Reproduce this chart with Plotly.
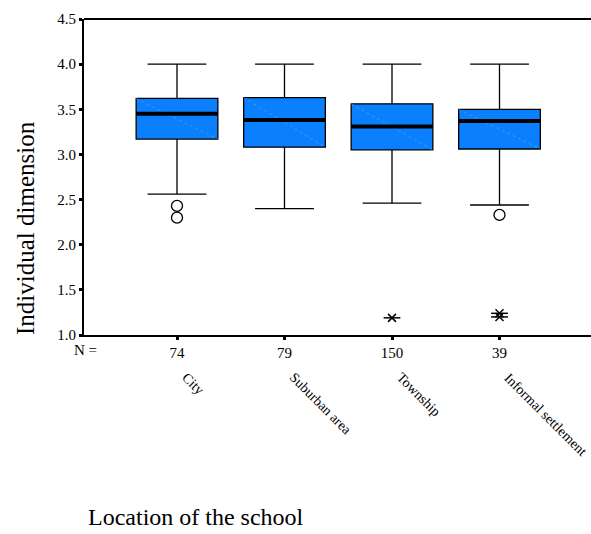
import plotly.graph_objects as go

categories = ["City", "Suburban area", "Township", "Informal settlement"]
counts = ["74", "79", "150", "39"]
upper_whisker = [4.0, 4.0, 4.0, 4.0]
q3 = [3.62, 3.63, 3.56, 3.50]
median = [3.45, 3.38, 3.31, 3.37]
q1 = [3.17, 3.08, 3.05, 3.06]
lower_whisker = [2.56, 2.40, 2.46, 2.44]
# outliers (circles) and extremes (stars)
outlier_cat = [0, 0, 3]
outlier_val = [2.43, 2.30, 2.33]
extreme_cat = [2, 3, 3]
extreme_val = [1.19, 1.20, 1.24]

W, H = 591, 534
BOX_W = 0.76
FILL = "#0A80FF"
FONT = "Liberation Serif, Times New Roman, serif"

fig = go.Figure()
xs = list(range(len(categories)))
fig.add_trace(go.Box(
    x=xs, q1=q1, median=median, q3=q3,
    lowerfence=lower_whisker, upperfence=upper_whisker,
    fillcolor=FILL, line=dict(color="black", width=1.3),
    width=BOX_W, whiskerwidth=0.72, boxpoints=False, showlegend=False,
    hoverinfo="skip",
))

# faint diagonal inside boxes
dx, dy = [], []
for i in xs:
    dx += [i - BOX_W / 2, i + BOX_W / 2, None]
    dy += [q3[i], q1[i], None]
fig.add_trace(go.Scatter(x=dx, y=dy, mode="lines",
                         line=dict(color="#5AA8FF", width=0.6, dash="dot"),
                         showlegend=False, hoverinfo="skip"))

# thick medians
mx, my = [], []
for i in xs:
    mx += [i - BOX_W / 2, i + BOX_W / 2, None]
    my += [median[i], median[i], None]
fig.add_trace(go.Scatter(x=mx, y=my, mode="lines",
                         line=dict(color="black", width=4),
                         showlegend=False, hoverinfo="skip"))

fig.add_trace(go.Scatter(x=outlier_cat, y=outlier_val, mode="markers",
                         marker=dict(symbol="circle-open", size=11,
                                     color="black", line=dict(width=1.3)),
                         showlegend=False, hoverinfo="skip"))
fig.add_trace(go.Scatter(x=extreme_cat, y=extreme_val, mode="markers",
                         marker=dict(symbol="x-thin-open", size=8,
                                     color="black", line=dict(width=1.5)),
                         showlegend=False, hoverinfo="skip"))
fig.add_trace(go.Scatter(x=extreme_cat, y=extreme_val, mode="markers",
                         marker=dict(symbol="line-ew-open", size=12,
                                     color="black", line=dict(width=1.5)),
                         showlegend=False, hoverinfo="skip"))

L, T, B = 84, 19, 199
plot_w = W - L
unit = 107.5
x0 = -(177 - L) / unit
x1 = x0 + plot_w / unit

fig.update_layout(
    width=W, height=H,
    margin=dict(l=L, r=0, t=T, b=B, pad=0),
    paper_bgcolor="white", plot_bgcolor="white",
    font=dict(family=FONT, size=15, color="black"),
    xaxis=dict(range=[x0, x1], tickmode="array", tickvals=xs, ticktext=counts,
               showgrid=False, zeroline=False, showline=True, linecolor="black",
               linewidth=2, ticks="outside", ticklen=3, tickwidth=3,
               tickcolor="black", mirror=False, tickfont=dict(size=15)),
    yaxis=dict(range=[1.0, 4.5], tickmode="array",
               tickvals=[1.0, 1.5, 2.0, 2.5, 3.0, 3.5, 4.0, 4.5],
               ticktext=["1.0", "1.5", "2.0", "2.5", "3.0", "3.5", "4.0", "4.5"],
               showgrid=False, zeroline=False, showline=True, linecolor="black",
               linewidth=2, ticks="outside", ticklen=3, tickwidth=3,
               tickcolor="black", tickfont=dict(size=15)),
    shapes=[dict(type="line", xref="paper", yref="paper", x0=0, x1=1, y0=1, y1=1,
                 line=dict(color="black", width=2))],
)

ph = H - T - B
def py(pix):
    return (H - B - pix) / ph

annotations = [
    dict(text="N =", xref="paper", yref="paper", x=(85 - L) / plot_w, y=py(340),
         xanchor="center", yanchor="top", showarrow=False, font=dict(size=15)),
    dict(text="Individual dimension", xref="paper", yref="paper",
         x=(25 - L) / plot_w, y=py(228), textangle=-90, xanchor="center",
         yanchor="middle", showarrow=False, font=dict(size=25)),
    dict(text="Location of the school", xref="paper", yref="paper",
         x=(86 - L) / plot_w, y=py(517), xanchor="left", yanchor="middle",
         showarrow=False, font=dict(size=24)),
]
for i, c in enumerate(categories):
    annotations.append(dict(text=c, xref="x", yref="paper", x=i, xshift=-1,
                            y=py(367), xanchor="left", yanchor="top",
                            textangle=45, showarrow=False, font=dict(size=14)))
fig.update_layout(annotations=annotations)

fig.write_html("out.html")
